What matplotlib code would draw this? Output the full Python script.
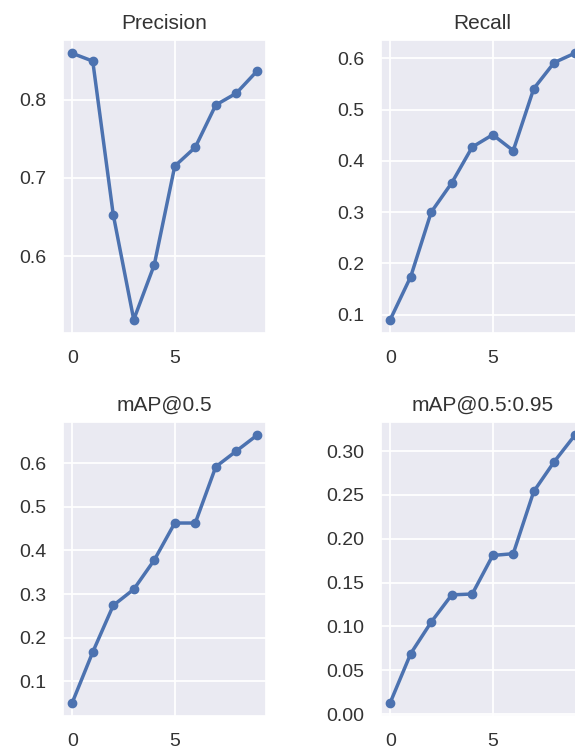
import matplotlib
matplotlib.use('Agg')
import matplotlib.pyplot as plt
import seaborn as sns
from matplotlib.ticker import MultipleLocator

sns.set_theme(style='darkgrid')
plt.rcParams['font.family'] = ['Liberation Sans', 'DejaVu Sans']

epochs = list(range(10))
precision = [0.859, 0.849, 0.653, 0.519, 0.589, 0.715, 0.739, 0.793, 0.808, 0.836]
recall = [0.090, 0.174, 0.300, 0.357, 0.427, 0.451, 0.420, 0.541, 0.592, 0.610]
map50 = [0.051, 0.167, 0.274, 0.311, 0.378, 0.463, 0.463, 0.592, 0.628, 0.664]
map50_95 = [0.013, 0.069, 0.105, 0.136, 0.137, 0.181, 0.183, 0.254, 0.288, 0.318]

titles = ['Precision', 'Recall', 'mAP@0.5', 'mAP@0.5:0.95']
series = [precision, recall, map50, map50_95]
y_steps = [0.1, 0.1, 0.1, 0.05]

fig = plt.figure(figsize=(5.75, 7.5), dpi=100)

# right column runs past the figure edge, like the cropped original
positions = [
    [0.1096, 0.556, 0.353, 0.3907],
    [0.6626, 0.556, 0.353, 0.3907],
    [0.1096, 0.0453, 0.353, 0.392],
    [0.6626, 0.0453, 0.353, 0.392],
]

for pos, title, values, step in zip(positions, titles, series, y_steps):
    ax = fig.add_axes(pos)
    ax.plot(epochs, values, marker='o', color='#4c72b0', linewidth=2.5, markersize=6)
    ax.set_title(title, fontsize=15, pad=8, color='#333333')
    ax.xaxis.set_major_locator(MultipleLocator(5))
    ax.yaxis.set_major_locator(MultipleLocator(step))
    if step == 0.05:
        ax.yaxis.set_major_formatter(plt.FormatStrFormatter('%.2f'))
    else:
        ax.yaxis.set_major_formatter(plt.FormatStrFormatter('%.1f'))
    ax.tick_params(length=0, pad=12, labelsize=14, colors='#333333')
    ax.grid(True, color='white', linewidth=1.3)

fig.savefig('out.png', dpi=100)
